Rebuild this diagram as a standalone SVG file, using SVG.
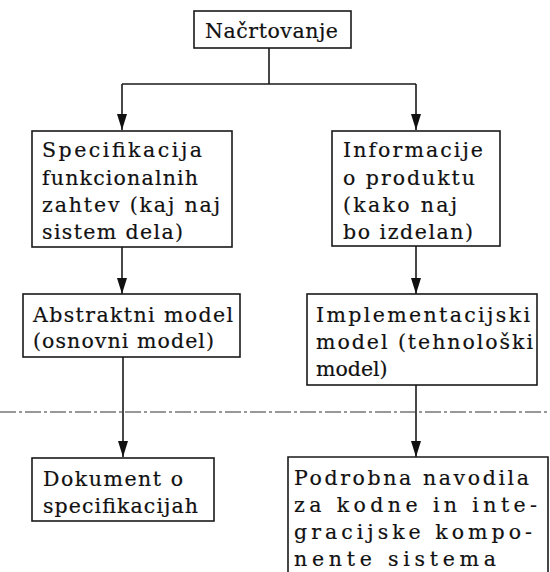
<svg xmlns="http://www.w3.org/2000/svg" width="550" height="572" viewBox="0 0 550 572">
<style>
.box{fill:#fff;stroke:#1a1a1a;stroke-width:1.6}
.t{font-family:"DejaVu Serif","Liberation Serif",serif;font-size:20.5px;fill:#111;stroke:#111;stroke-width:0.2}
.c{fill:none;stroke:#1a1a1a;stroke-width:1.6}
.d{fill:none;stroke:#333;stroke-width:1.1;stroke-dasharray:16 3 3 3}
</style>
<defs>
<marker id="av" viewBox="0 0 16 10" refX="16" refY="5" markerWidth="16" markerHeight="10" markerUnits="userSpaceOnUse" orient="auto">
<path d="M0,0 L16,5 L0,10 Z" fill="#111"/>
</marker>
</defs>
<rect width="550" height="572" fill="#fff"/>
<g id="connectors">
<path class="c" d="M269,48 V84 M122,84 H416"/>
<path class="c" d="M122,84 V130" marker-end="url(#av)"/>
<path class="c" d="M416,84 V130" marker-end="url(#av)"/>
<path class="c" d="M122,247 V294" marker-end="url(#av)"/>
<path class="c" d="M416,246 V294" marker-end="url(#av)"/>
<path class="c" d="M123,357 V457" marker-end="url(#av)"/>
<path class="c" d="M416,385 V457" marker-end="url(#av)"/>
</g>
<line class="d" x1="0" y1="412" x2="550" y2="412"/>
<g id="n_nacrtovanje">
<rect class="box" x="194" y="11" width="157" height="37"/>
<text class="t" x="205" y="38" textLength="133" lengthAdjust="spacing">Načrtovanje</text>
</g>
<g id="n_specifikacija">
<rect class="box" x="32" y="131" width="200" height="116"/>
<text class="t" x="42" y="157" textLength="160" lengthAdjust="spacing">Specifikacija</text>
<text class="t" x="42" y="185" textLength="156" lengthAdjust="spacing">funkcionalnih</text>
<text class="t" x="42" y="212" textLength="178" lengthAdjust="spacing">zahtev (kaj naj</text>
<text class="t" x="42" y="239" textLength="141" lengthAdjust="spacing">sistem dela)</text>
</g>
<g id="n_informacije">
<rect class="box" x="332" y="131" width="168" height="115"/>
<text class="t" x="343" y="157" textLength="140" lengthAdjust="spacing">Informacije</text>
<text class="t" x="343" y="185" textLength="132" lengthAdjust="spacing">o produktu</text>
<text class="t" x="343" y="212" textLength="114" lengthAdjust="spacing">(kako naj</text>
<text class="t" x="343" y="239" textLength="130" lengthAdjust="spacing">bo izdelan)</text>
</g>
<g id="n_abstraktni">
<rect class="box" x="23" y="294" width="217" height="63"/>
<text class="t" x="33" y="322" textLength="200" lengthAdjust="spacing">Abstraktni model</text>
<text class="t" x="33" y="348" textLength="181" lengthAdjust="spacing">(osnovni model)</text>
</g>
<g id="n_implementacijski">
<rect class="box" x="307" y="294" width="230" height="91"/>
<text class="t" x="316" y="322" textLength="214" lengthAdjust="spacing">Implementacijski</text>
<text class="t" x="316" y="349" textLength="217" lengthAdjust="spacing">model (tehnološki</text>
<text class="t" x="316" y="376">model)</text>
</g>
<g id="n_dokument">
<rect class="box" x="32" y="458" width="182" height="63"/>
<text class="t" x="43" y="486" textLength="140" lengthAdjust="spacing">Dokument o</text>
<text class="t" x="43" y="513" textLength="155" lengthAdjust="spacing">specifikacijah</text>
</g>
<g id="n_podrobna">
<path class="box" d="M288,575 V457 H548 V575"/>
<text class="t" x="294" y="485" textLength="235" lengthAdjust="spacing">Podrobna navodila</text>
<text class="t" x="294" y="512" textLength="243" lengthAdjust="spacing">za kodne in inte-</text>
<text class="t" x="294" y="539" textLength="238" lengthAdjust="spacing">gracijske kompo-</text>
<text class="t" x="294" y="566" textLength="202" lengthAdjust="spacing">nente sistema</text>
</g>
</svg>
